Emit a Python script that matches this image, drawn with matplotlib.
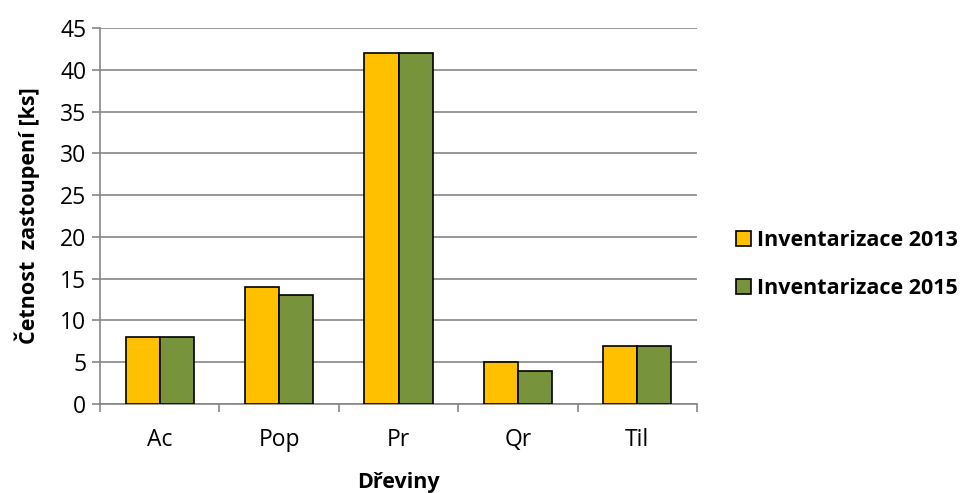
import numpy as np
import matplotlib.pyplot as plt

plt.rcParams['font.family'] = ['Open Sans', 'DejaVu Sans']

druhy = ['Ac', 'Pop', 'Pr', 'Qr', 'Til']
inv_2013 = [8, 14, 42, 5, 7]
inv_2015 = [8, 13, 42, 4, 7]
yticks = np.arange(0, 46, 5)

grey = '#868686'
fig = plt.figure(figsize=(9.74, 4.93), dpi=100)
ax = fig.add_axes([0.1027, 0.1805, 0.6129, 0.7627])

x = np.arange(len(druhy))
w = 0.285
ax.bar(x - w / 2, inv_2013, w, color='#FFC000', edgecolor='black', linewidth=1.2,
       label='Inventarizace 2013', zorder=3)
ax.bar(x + w / 2, inv_2015, w, color='#77933C', edgecolor='black', linewidth=1.2,
       label='Inventarizace 2015', zorder=3)

ax.set_xlim(-0.5, len(druhy) - 0.5)
ax.set_ylim(0, 45)
ax.set_yticks(yticks)
ax.set_xticks(x)
ax.set_xticklabels(druhy)
ax.set_xticks(np.arange(-0.5, len(druhy)), minor=True)
ax.tick_params(axis='x', which='major', length=0, pad=17, labelsize=16.5)
ax.tick_params(axis='x', which='minor', length=6, width=1.2, color=grey, direction='out')
ax.tick_params(axis='y', length=6, width=1.2, color=grey, labelsize=16.5, pad=4)
ax.grid(axis='y', color=grey, linewidth=1.2, zorder=0)

for side in ['top', 'right']:
    ax.spines[side].set_visible(False)
for side in ['left', 'bottom']:
    ax.spines[side].set_color(grey)
    ax.spines[side].set_linewidth(1.2)

ax.set_xlabel('Dřeviny', fontsize=15.5, fontweight='bold', labelpad=15)
ax.set_ylabel('Četnost  zastoupení [ks]', fontsize=15.5, fontweight='bold', labelpad=14)

leg = ax.legend(loc='center left', bbox_to_anchor=(1.065, 0.37), frameon=False,
                prop={'weight': 'bold', 'size': 15.5}, handlelength=0.7, handleheight=0.7,
                handletextpad=0.3, labelspacing=1.25, borderpad=0, borderaxespad=0)

plt.savefig('out.png', dpi=100)
